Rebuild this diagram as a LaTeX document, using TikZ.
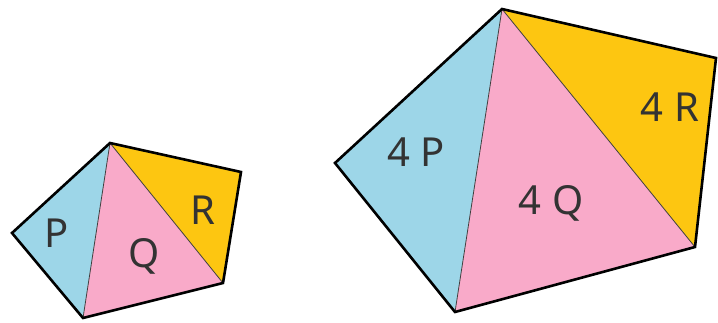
\documentclass[tikz,border=0pt]{standalone}
\usepackage{fontspec}
\setmainfont{Noto Sans}
\definecolor{cP}{HTML}{9DD6E8}
\definecolor{cQ}{HTML}{F9AAC9}
\definecolor{cR}{HTML}{FDC611}
\begin{document}
\begin{tikzpicture}[x=1pt,y=-1pt,
  outline/.style={draw=black,line width=2.6pt,line join=miter},
  diag/.style={draw=black!75,line width=0.8pt},
  lab/.style={font=\fontsize{40}{40}\selectfont,text=black!80,inner sep=0pt}]
\useasboundingbox (0,0) rectangle (718,322);
% small pentagon
\coordinate (sl) at (12,233);
\coordinate (st) at (110,143);
\coordinate (sr) at (241,172);
\coordinate (sb2) at (223,283);
\coordinate (sb) at (83,318);
\fill[cP] (sl) -- (st) -- (sb) -- cycle;
\fill[cQ] (st) -- (sb2) -- (sb) -- cycle;
\fill[cR] (st) -- (sr) -- (sb2) -- cycle;
\draw[diag] (st) -- (sb);
\draw[diag] (st) -- (sb2);
\draw[outline] (sl) -- (st) -- (sr) -- (sb2) -- (sb) -- cycle;
\node[lab] (p) at (57,233) {P};
\node[lab] (q) at (144,256) {Q};
\node[lab] (r) at (203,210) {R};
% large pentagon
\coordinate (ll) at (335,163);
\coordinate (lt) at (502,9);
\coordinate (lr) at (716,58);
\coordinate (lb2) at (695,247);
\coordinate (lb) at (455,312);
\fill[cP] (ll) -- (lt) -- (lb) -- cycle;
\fill[cQ] (lt) -- (lb2) -- (lb) -- cycle;
\fill[cR] (lt) -- (lr) -- (lb2) -- cycle;
\draw[diag] (lt) -- (lb);
\draw[diag] (lt) -- (lb2);
\draw[outline] (ll) -- (lt) -- (lr) -- (lb2) -- (lb) -- cycle;
\node[lab] (lp) at (416,152) {4 P};
\node[lab] (lq) at (551,203) {4 Q};
\node[lab] (lr2) at (670,107) {4 R};
\end{tikzpicture}
\end{document}
